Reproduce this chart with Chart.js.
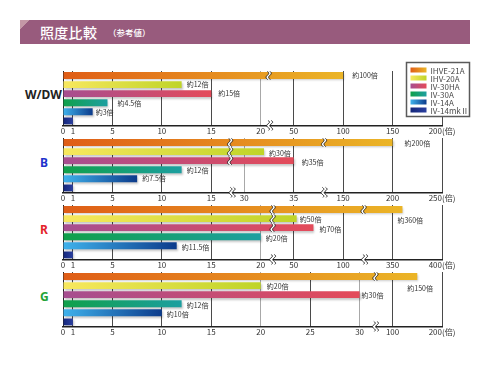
<!DOCTYPE html>
<html><head><meta charset="utf-8">
<script src="https://cdn.jsdelivr.net/npm/chart.js@4.4.1/dist/chart.umd.min.js"></script>
<style>
html,body{margin:0;padding:0;background:#fff}
body{width:490px;height:370px;position:relative;overflow:hidden;font-family:"Noto Sans CJK JP","Noto Sans",sans-serif}
#banner{position:absolute;left:20px;top:20px;width:450px;height:24px;background:linear-gradient(135deg,#c497a6 0,#c497a6 7px,#985b7d 7px);color:#fff}
#banner .t1{position:absolute;left:20px;top:1px;font-size:14px;font-weight:500;line-height:22px;letter-spacing:0.3px}
#banner .t2{position:absolute;left:88px;top:6px;font-size:8.5px;line-height:12px;font-weight:500}
.row{position:absolute;font-weight:bold;font-family:"Noto Sans","DejaVu Sans",sans-serif;font-size:12px;line-height:14px}
canvas{position:absolute;left:0}
</style></head>
<body>
<div id="banner"><div class="t1">照度比較</div><div class="t2">（参考値）</div></div>
<div id="rowlabels"></div>
<canvas id="c0" width="490" height="81"></canvas>
<canvas id="c1" width="490" height="72"></canvas>
<canvas id="c2" width="490" height="72"></canvas>
<canvas id="c3" width="490" height="72"></canvas>
<script>
// ---------- data ----------
const products = ['IHVE-21A','IHV-20A','IV-30HA','IV-30A','IV-14A','IV-14mkⅡ'];
const panelNames = ['W/DW','B','R','G'];
const valuesWDW = [100, 12, 15, 4.5, 3, 1];
const valuesB   = [200, 32, 35, 12, 7.5, 1];
const valuesR   = [360, 53, 70, 20, 11.5, 1];
const valuesG   = [150, 20, 30, 12, 10, 1];
const labelsWDW = ['約100倍','約12倍','約15倍','約4.5倍','約3倍',''];
const labelsB   = ['約200倍','約30倍','約35倍','約12倍','約7.5倍',''];
const labelsR   = ['約360倍','約50倍','約70倍','約20倍','約11.5倍',''];
const labelsG   = ['約150倍','約20倍','約30倍','約12倍','約10倍',''];
const ticksWDW = [0,1,5,10,15,20,50,100,150,200];
const ticksB   = [0,1,5,10,15,30,35,150,200,250];
const ticksR   = [0,1,5,10,15,20,50,100,350,400];
const ticksG   = [0,1,5,10,15,20,25,30,100,200];
const unitSuffix = '(倍)';

// ---------- layout / style ----------
const GRAD = [['#df5d17','#ebb527'],['#f8e85e','#bfd428'],['#a64e90','#e44b5a'],['#10a04a','#1d9fa0'],['#3fb2ec','#0c3b8b'],['#14267a','#2b40a0']];
const GEOM = [
  {top:58, padTop:13, tickPos:[0,1,5,10,15,20,23.333,28.333,33.333,38.333], gray:[20],
   barBreaks:[{d:20.8,rows:[0]}], axisBreaks:[20.9],
   dx:[9,5,7,10,3,0], dy:[0,0,0,0.5,0.5,0], color:'#222', lx:25, labelTop:95},
  {top:134, padTop:4, tickPos:[0,1,5,10,15,18.333,23.333,28.333,33.333,38.333], gray:[30],
   barBreaks:[{d:16.9,rows:[0,1,2]},{d:26.4,rows:[0]}], axisBreaks:[17.1,26.4],
   dx:[12,5,8,5,5,0], dy:[0.5,1.5,1.5,0.5,0,0], color:'#1f33cc', lx:40, labelTop:163},
  {top:201, padTop:4, tickPos:[0,1,5,10,15,20,23.333,28.333,33.333,38.333], gray:[20],
   barBreaks:[{d:21.2,rows:[0,1,2]},{d:30.4,rows:[0]}], axisBreaks:[21.2,30.5],
   dx:[-5,3,6,5,5,0], dy:[10.5,0.5,1.5,1.5,1.5,0], color:'#e41f2b', lx:40, labelTop:230},
  {top:268, padTop:4, tickPos:[0,1,5,10,15,20,25,30,33.333,38.333], gray:[20,30],
   barBreaks:[{d:31.6,rows:[0]}], axisBreaks:[31.6],
   dx:[-10,6,2,5,5,0], dy:[11.5,0.5,0.5,1.5,1.5,0], color:'#22a336', lx:40, labelTop:297}
];
const LEGEND_BOX = {x:406.5, y:4.5, w:63, h:54, rowH:8, firstRow:11};
const PANELS = [
  {vals:valuesWDW, labels:labelsWDW, ticks:ticksWDW},
  {vals:valuesB, labels:labelsB, ticks:ticksB},
  {vals:valuesR, labels:labelsR, ticks:ticksR},
  {vals:valuesG, labels:labelsG, ticks:ticksG}
];
function panelIndex(chart){ return +chart.canvas.id.slice(1); }

Chart.defaults.font.family = '"Noto Sans CJK JP","Noto Sans",sans-serif';

// Broken (piecewise) axis: maps values through tick breakpoints
class BrokenScale extends Chart.LinearScale {
  _tv(){ return PANELS[panelIndex(this.chart)].ticks; }
  _tp(){ return GEOM[panelIndex(this.chart)].tickPos; }
  determineDataLimits(){ const p=this._tp(); this.min=0; this.max=p[p.length-1]; }
  buildTicks(){ return this._tv().map(v=>({value:v})); }
  toDisplay(v){
    const t=this._tv(), p=this._tp();
    if (v<=t[0]) return p[0];
    for (let i=0;i<t.length-1;i++){ if (v<=t[i+1]) return p[i]+(v-t[i])/(t[i+1]-t[i])*(p[i+1]-p[i]); }
    const n=t.length-1; return p[n]+(v-t[n])/(t[n]-t[n-1])*(p[n]-p[n-1]);
  }
  getPixelForValue(v){ return v===null||v===undefined ? NaN : super.getPixelForValue(this.toDisplay(v)); }
  pixelForDisplay(d){ return super.getPixelForValue(d); }
}
BrokenScale.id = 'broken';
BrokenScale.defaults = {};
Chart.register(BrokenScale);

function wavePts(x, y0, y1, amp, period){
  const pts=[]; for (let y=y0; y<=y1+0.01; y+=0.5) pts.push([x+amp*Math.sin((y-y0)/period*2*Math.PI), y]); return pts;
}
function drawBreak(ctx, x, y0, y1, gap, amp, period){
  const L=wavePts(x-gap/2,y0,y1,amp,period), R=wavePts(x+gap/2,y0,y1,amp,period);
  ctx.save();
  ctx.beginPath(); L.forEach((p,i)=>i?ctx.lineTo(p[0],p[1]):ctx.moveTo(p[0],p[1]));
  for (let i=R.length-1;i>=0;i--) ctx.lineTo(R[i][0],R[i][1]);
  ctx.closePath(); ctx.fillStyle='#fff'; ctx.fill();
  ctx.strokeStyle='#111'; ctx.lineWidth=0.9;
  [L,R].forEach(P=>{ctx.beginPath(); P.forEach((p,i)=>i?ctx.lineTo(p[0],p[1]):ctx.moveTo(p[0],p[1])); ctx.stroke();});
  ctx.restore();
}

const shadowPlugin = {
  id:'shadow',
  beforeDatasetsDraw(ch){ const c=ch.ctx; c.save(); c.shadowColor='rgba(0,0,0,0.22)'; c.shadowBlur=2; c.shadowOffsetY=1.5; c.shadowOffsetX=1; },
  afterDatasetsDraw(ch){ ch.ctx.restore(); }
};
const decoPlugin = {
  id:'deco',
  afterDatasetsDraw(ch){
    const k=panelIndex(ch), g=GEOM[k], p=PANELS[k], s=ch.scales.x, ctx=ch.ctx, meta=ch.getDatasetMeta(0);
    g.barBreaks.forEach(b=>{
      const x=s.pixelForDisplay(b.d);
      b.rows.forEach(r=>{
        const el=meta.data[r]; const h=el.height/2+0.8;
        drawBreak(ctx, x, el.y-h, el.y+h, 2.6, 1.3, 8);
      });
    });
    g.axisBreaks.forEach(d=>{
      const x=s.pixelForDisplay(d), y=ch.chartArea.bottom;
      drawBreak(ctx, x, y-5, y+5, 3.2, 1.4, 7);
    });
    ctx.save();
    ctx.font='7px "Noto Sans CJK JP"'; ctx.fillStyle='#333'; ctx.textBaseline='middle'; ctx.textAlign='left';
    p.labels.forEach((t,i)=>{
      if(!t) return; const el=meta.data[i];
      ctx.fillText(t, el.x+g.dx[i], el.y+g.dy[i]);
    });
    ctx.restore();
  }
};
// legend box drawn in the first panel's canvas
const legendPlugin = {
  id:'boxLegend',
  afterDraw(ch){
    if (panelIndex(ch)!==0) return;
    const ctx=ch.ctx, b=LEGEND_BOX;
    ctx.save();
    ctx.fillStyle='#fff'; ctx.fillRect(b.x,b.y,b.w,b.h);
    ctx.strokeStyle='#5a5a5a'; ctx.lineWidth=1.5; ctx.strokeRect(b.x,b.y,b.w,b.h);
    ctx.font='8px "Noto Sans CJK JP"'; ctx.textBaseline='middle'; ctx.textAlign='left';
    products.forEach((n,i)=>{
      const y=b.y+b.firstRow-4+i*b.rowH+0.5;
      const gr=ctx.createLinearGradient(b.x+4,0,b.x+20,0);
      gr.addColorStop(0,GRAD[i][0]); gr.addColorStop(1,GRAD[i][1]);
      ctx.fillStyle=gr; ctx.fillRect(b.x+4, y-2.5, 16, 5);
      ctx.fillStyle='#4a4a4a'; ctx.fillText(n, b.x+24, y+0.5);
    });
    ctx.restore();
  }
};

PANELS.forEach((p,k)=>{
  const g=GEOM[k];
  const cv=document.getElementById('c'+k);
  cv.style.top=g.top+'px';
  new Chart(cv, {
    type:'bar',
    data:{labels:products, datasets:[{
      data:p.vals,
      barPercentage:0.76, categoryPercentage:1, borderWidth:0,
      backgroundColor:(c)=>{
        const chart=c.chart, s=chart.scales.x, cols=GRAD[c.dataIndex];
        if(!s||!chart.chartArea||c.raw===undefined) return cols[0];
        const x0=s.getPixelForValue(0), x1=Math.max(s.getPixelForValue(c.raw), x0+1);
        const gr=chart.ctx.createLinearGradient(x0,0,x1,0);
        gr.addColorStop(0,cols[0]); gr.addColorStop(1,cols[1]); return gr;
      }
    }]},
    options:{
      indexAxis:'y', responsive:false, animation:false, events:[],
      layout:{padding:{left:63,right:48,top:g.padTop,bottom:2}},
      plugins:{legend:{display:false}, tooltip:{enabled:false}},
      scales:{
        y:{display:false},
        x:{type:'broken', position:'bottom',
           ticks:{autoSkip:false, maxRotation:0, minRotation:0, padding:1, color:'#333', font:{size:8},
                  callback:(v,i,arr)=> String(p.ticks[i]) + (i===arr.length-1 ? unitSuffix : '')},
           grid:{drawTicks:false, lineWidth:1,
                 color:(c)=>{ if(!c.tick) return '#555'; if(c.tick.value===0) return '#222'; return g.gray.includes(c.tick.value)?'#a8a8a8':'#4a4a4a'; }},
           border:{display:true, color:'#222', width:1.5}
        }
      }
    },
    plugins:[shadowPlugin, decoPlugin, legendPlugin]
  });
});
</script>
<script>
(function(){
  const rl=document.getElementById('rowlabels');
  panelNames.forEach((n,k)=>{
    const d=document.createElement('div'); d.className='row'; d.textContent=n;
    d.style.left=GEOM[k].lx+'px'; d.style.top=(GEOM[k].labelTop-7)+'px'; d.style.color=GEOM[k].color;
    rl.appendChild(d);
  });
})();
</script>
</body></html>
